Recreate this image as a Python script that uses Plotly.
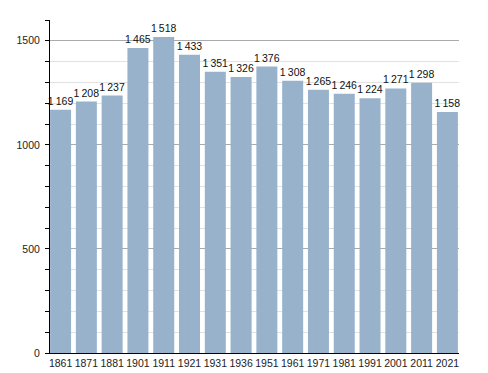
import plotly.graph_objects as go

years = ["1861", "1871", "1881", "1901", "1911", "1921", "1931", "1936",
         "1951", "1961", "1971", "1981", "1991", "2001", "2011", "2021"]
population = [1169, 1208, 1237, 1465, 1518, 1433, 1351, 1326,
              1376, 1308, 1265, 1246, 1224, 1271, 1298, 1158]

def fmt(v):
    return f"{v:,}".replace(",", "\u2009")

labels = [fmt(v) for v in population]

fig = go.Figure(go.Bar(
    x=years, y=population, text=labels,
    textposition="outside", constraintext="none", cliponaxis=False,
    textfont=dict(family="Liberation Sans", size=10.5, color="#111"),
    marker=dict(color="rgb(152,178,204)", line=dict(width=0)),
    hoverinfo="skip",
))

fig.update_layout(
    width=488, height=373,
    margin=dict(l=50, r=29, t=20, b=20, autoexpand=False),
    paper_bgcolor="white", plot_bgcolor="white",
    bargap=0.186,
    showlegend=False,
    font=dict(family="Liberation Sans", size=10.5, color="#222"),
    xaxis=dict(
        type="category", range=[-0.41, 15.45],
        showline=True, linecolor="black", linewidth=1,
        ticks="", showgrid=False, tickfont=dict(size=10.5, color="#222"),
        tickangle=0, automargin=False,
        fixedrange=True,
    ),
    yaxis=dict(
        range=[0, 1600], dtick=500, tick0=0,
        showline=True, linecolor="black", linewidth=1,
        ticks="outside", ticklen=4, tickcolor="black",
        showgrid=True, gridcolor="#aaaaaa", gridwidth=1,
        zeroline=False, tickformat="d", automargin=False,
        tickfont=dict(size=10.5, color="#222"),
        ticklabelstandoff=3,
        minor=dict(dtick=100, ticks="outside", ticklen=4, tickcolor="black",
                   showgrid=True, gridcolor="#e2e2e2", gridwidth=1),
        fixedrange=True,
    ),
)

fig.write_html(
    "out.html",
    config={"displayModeBar": False},
    post_script="document.body.style.margin='0';document.body.style.overflow='hidden';",
)
